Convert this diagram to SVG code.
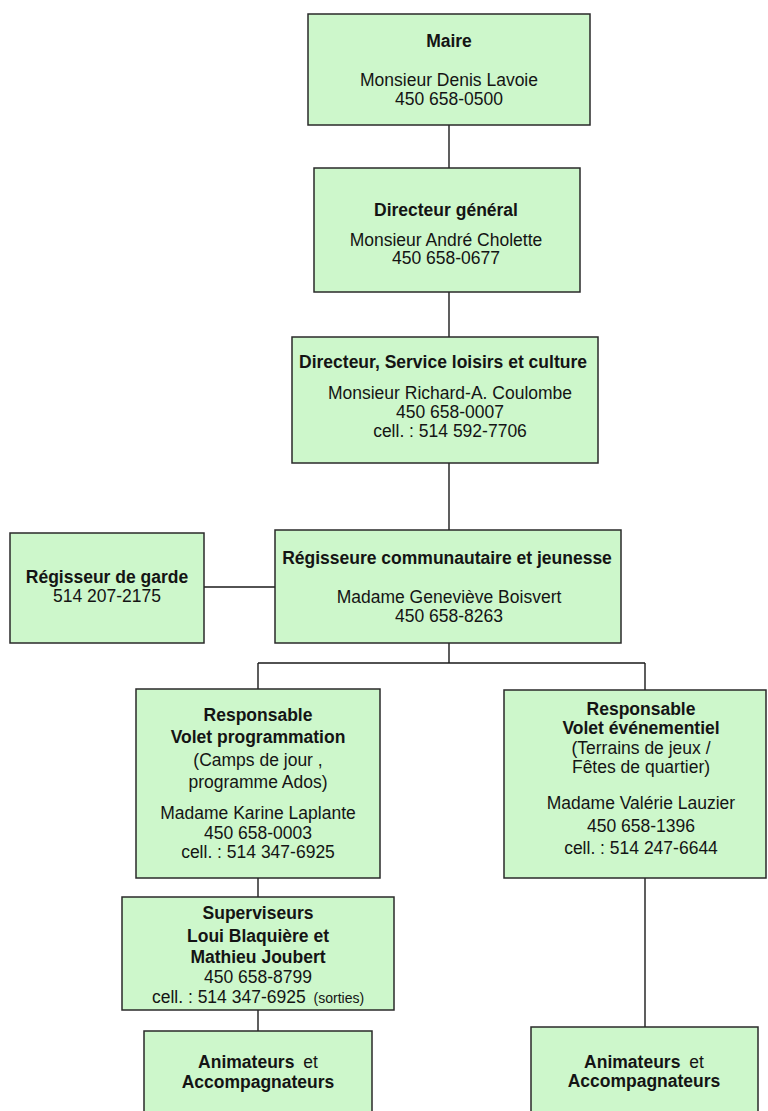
<svg xmlns="http://www.w3.org/2000/svg" width="768" height="1111" viewBox="0 0 768 1111">
<style>
  .box { fill: #cdf7cb; stroke: #2a2a2a; stroke-width: 1.5; }
  .t { font-family: "Liberation Sans", Arial, sans-serif; font-size: 17.5px; fill: #141414; text-anchor: middle; }
  .b { font-weight: bold; }
  .s { font-size: 14px; }
  .conn line, .conn path { stroke: #1a1a1a; stroke-width: 1.4; fill: none; }
</style>
<rect width="768" height="1111" fill="#ffffff"/>
<g id="connectors" class="conn">
  <line x1="449" y1="125" x2="449" y2="168"/>
  <line x1="449" y1="292" x2="449" y2="337"/>
  <line x1="449" y1="463" x2="449" y2="530"/>
  <line x1="204" y1="587" x2="275" y2="587"/>
  <path d="M449 643 V663 M258 663 H645 M258 663 V689 M645 663 V690"/>
  <line x1="258" y1="878" x2="258" y2="897"/>
  <line x1="258" y1="1010" x2="258" y2="1031"/>
  <line x1="645" y1="878" x2="645" y2="1027"/>
</g>
<g id="maire">
  <rect class="box" x="308" y="14" width="282" height="111"/>
  <text class="t b" x="449" y="47">Maire</text>
  <text class="t" x="449" y="86">Monsieur Denis Lavoie</text>
  <text class="t" x="449" y="105">450 658-0500</text>
</g>
<g id="directeur-general">
  <rect class="box" x="314" y="168" width="266" height="124"/>
  <text class="t b" x="446" y="216">Directeur général</text>
  <text class="t" x="446" y="246">Monsieur André Cholette</text>
  <text class="t" x="446" y="264">450 658-0677</text>
</g>
<g id="directeur-loisirs">
  <rect class="box" x="292" y="337" width="306" height="126"/>
  <text class="t b" x="443" y="368">Directeur, Service loisirs et culture</text>
  <text class="t" x="450" y="399">Monsieur Richard-A. Coulombe</text>
  <text class="t" x="450" y="418">450 658-0007</text>
  <text class="t" x="450" y="437">cell. : 514 592-7706</text>
</g>
<g id="regisseur-garde">
  <rect class="box" x="10" y="533" width="194" height="110"/>
  <text class="t b" x="107" y="583">Régisseur de garde</text>
  <text class="t" x="107" y="602">514 207-2175</text>
</g>
<g id="regisseure">
  <rect class="box" x="275" y="530" width="346" height="113"/>
  <text class="t b" x="447" y="564">Régisseure communautaire et jeunesse</text>
  <text class="t" x="449" y="603">Madame Geneviève Boisvert</text>
  <text class="t" x="449" y="622">450 658-8263</text>
</g>
<g id="resp-programmation">
  <rect class="box" x="136" y="689" width="244" height="189"/>
  <text class="t b" x="258" y="721">Responsable</text>
  <text class="t b" x="258" y="743">Volet programmation</text>
  <text class="t" x="258" y="766">(Camps de jour ,</text>
  <text class="t" x="258" y="788">programme Ados)</text>
  <text class="t" x="258" y="819">Madame Karine Laplante</text>
  <text class="t" x="258" y="839">450 658-0003</text>
  <text class="t" x="258" y="858">cell. : 514 347-6925</text>
</g>
<g id="resp-evenementiel">
  <rect class="box" x="504" y="690" width="262" height="188"/>
  <text class="t b" x="641" y="715">Responsable</text>
  <text class="t b" x="641" y="734">Volet événementiel</text>
  <text class="t" x="641" y="754">(Terrains de jeux /</text>
  <text class="t" x="641" y="773">Fêtes de quartier)</text>
  <text class="t" x="641" y="809">Madame Valérie Lauzier</text>
  <text class="t" x="641" y="832">450 658-1396</text>
  <text class="t" x="641" y="854">cell. : 514 247-6644</text>
</g>
<g id="superviseurs">
  <rect class="box" x="122" y="897" width="272" height="113"/>
  <text class="t b" x="258" y="919">Superviseurs</text>
  <text class="t b" x="258" y="942">Loui Blaquière et</text>
  <text class="t b" x="258" y="963">Mathieu Joubert</text>
  <text class="t" x="258" y="983">450 658-8799</text>
  <text class="t" x="258" y="1003">cell. : 514 347-6925 <tspan class="s" dx="3">(sorties)</tspan></text>
</g>
<g id="animateurs-gauche">
  <rect class="box" x="144" y="1031" width="228" height="95"/>
  <text class="t" x="258" y="1068"><tspan class="b">Animateurs</tspan> <tspan dx="4">et</tspan></text>
  <text class="t b" x="258" y="1088">Accompagnateurs</text>
</g>
<g id="animateurs-droite">
  <rect class="box" x="531" y="1027" width="227" height="99"/>
  <text class="t" x="644" y="1068"><tspan class="b">Animateurs</tspan> <tspan dx="4">et</tspan></text>
  <text class="t b" x="644" y="1087">Accompagnateurs</text>
</g>
</svg>
